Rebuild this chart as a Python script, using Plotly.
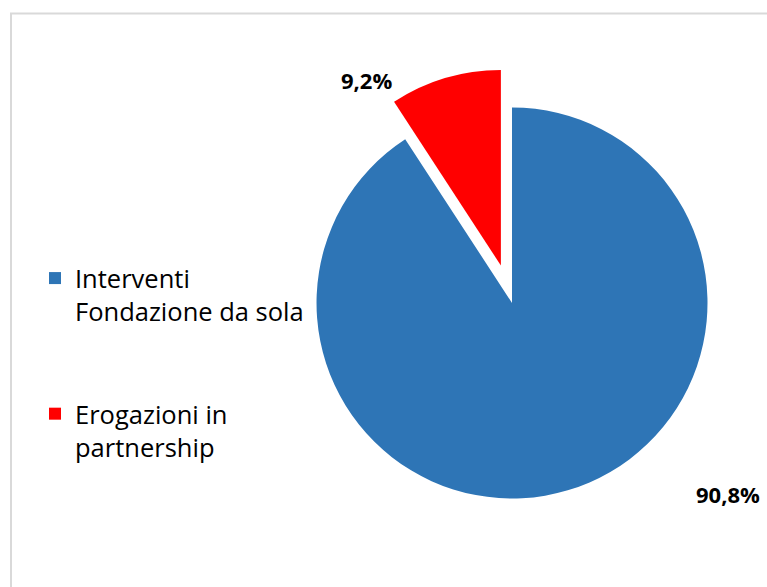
import plotly.graph_objects as go

# data
categories = ["Interventi<br>Fondazione da sola", "Erogazioni in<br>partnership"]
shares = [90.8, 9.2]
colors = ["#2E75B6", "#FF0000"]
pulls = [0, 0.2]

W, H = 767, 587
LABEL_FONT = {"family": "Open Sans", "size": 22, "color": "#000000"}


def pct(v):
    return f"<b>{v:.1f}%</b>".replace(".", ",")


# the original legend leaves a wide gap between the two entries
legend_labels = [categories[0] + "<br>&nbsp;<br>&nbsp;", categories[1]]

fig = go.Figure()
fig.add_trace(
    go.Pie(
        labels=legend_labels,
        values=shares,
        sort=False,
        direction="clockwise",
        rotation=0,
        pull=pulls,
        marker={"colors": colors, "line": {"width": 0}},
        textinfo="none",
        hoverinfo="percent",
        domain={"x": [0.3617, 0.9734], "y": [0.0842, 0.8835]},
    )
)

# data labels, placed the way the original chart has them
label_pos = [(728 / W, 1 - 494 / H), (366 / W, 1 - 80 / H)]
for v, (lx, ly) in zip(shares, label_pos):
    fig.add_annotation(
        x=lx, y=ly, xref="paper", yref="paper",
        text=pct(v), showarrow=False, font=LABEL_FONT,
        xanchor="center", yanchor="middle",
    )

# light frame around the chart area
fig.add_shape(
    type="rect", xref="paper", yref="paper",
    x0=11 / W, x1=1.02, y0=-0.02, y1=1 - 13.5 / H,
    line={"color": "#D9D9D9", "width": 2}, fillcolor="rgba(0,0,0,0)",
    layer="below",
)

fig.update_layout(
    width=W,
    height=H,
    margin={"l": 0, "r": 0, "t": 0, "b": 0},
    paper_bgcolor="white",
    plot_bgcolor="white",
    font={"family": "Open Sans", "color": "#000000"},
    showlegend=True,
    legend={
        "x": 35 / W, "xanchor": "left",
        "y": 1 - 255 / H, "yanchor": "top",
        "valign": "top",
        "font": {"family": "Open Sans", "size": 25.5, "color": "#000000"},
        "bgcolor": "rgba(0,0,0,0)",
        "tracegroupgap": 0,
    },
)

fig.write_html(
    "out.html",
    config={"displayModeBar": False},
    post_script="document.body.style.margin = '0';",
)
